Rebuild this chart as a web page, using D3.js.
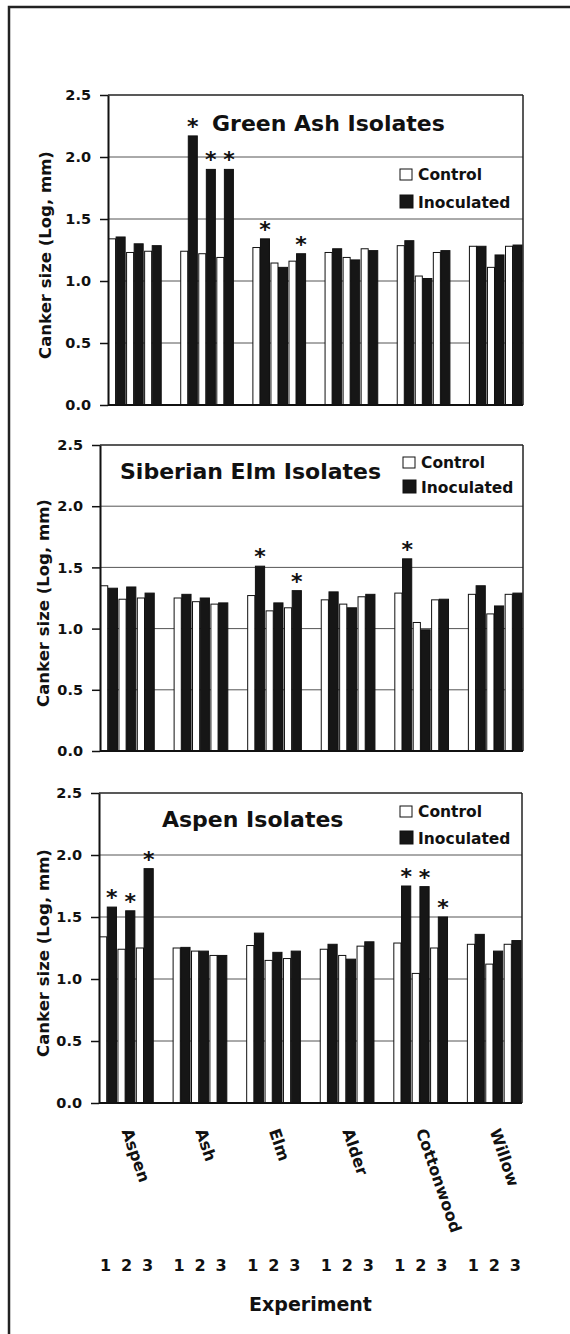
<!DOCTYPE html>
<html>
<head>
<meta charset="utf-8">
<script src="https://cdn.jsdelivr.net/npm/d3@7"></script>
<style>
  body { margin: 0; background: #fff; }
  svg { display: block; }
  text { font-family: "DejaVu Sans", sans-serif; font-weight: bold; fill: #111; }
  .grid line { stroke: #555; stroke-width: 1; }
  .bar-control { fill: #fff; stroke: #111; stroke-width: 1; }
  .bar-inoc { fill: #161616; stroke: #111; stroke-width: 1; }
</style>
</head>
<body>
<svg class="figure" width="570" height="1334"></svg>
<script>
// host trees (x groups) and experiment numbers
const hosts = ["Aspen", "Ash", "Elm", "Alder", "Cottonwood", "Willow"]
const experiments = ["1", "2", "3"]
const yTicks = [0, 0.5, 1.0, 1.5, 2.0, 2.5]
const seriesNames = ["Control", "Inoculated"]

// canker size (log, mm), order: host x experiment
const greenAshControl = [1.34, 1.23, 1.24, 1.24, 1.22, 1.19, 1.27, 1.145, 1.16, 1.23, 1.19, 1.26, 1.285, 1.04, 1.23, 1.28, 1.11, 1.28]
const greenAshInoculated = [1.355, 1.30, 1.285, 2.17, 1.90, 1.90, 1.34, 1.11, 1.22, 1.26, 1.17, 1.245, 1.325, 1.02, 1.245, 1.28, 1.21, 1.29]
const greenAshSignificant = [3, 4, 5, 6, 8]

const elmControl = [1.35, 1.24, 1.25, 1.25, 1.22, 1.20, 1.27, 1.145, 1.17, 1.235, 1.20, 1.26, 1.29, 1.05, 1.235, 1.28, 1.12, 1.28]
const elmInoculated = [1.33, 1.34, 1.29, 1.28, 1.25, 1.21, 1.51, 1.21, 1.31, 1.30, 1.17, 1.28, 1.57, 0.99, 1.24, 1.35, 1.185, 1.29]
const elmSignificant = [6, 8, 12]

const aspenControl = [1.34, 1.24, 1.25, 1.25, 1.225, 1.19, 1.27, 1.15, 1.165, 1.24, 1.19, 1.265, 1.29, 1.045, 1.25, 1.28, 1.12, 1.28]
const aspenInoculated = [1.58, 1.55, 1.89, 1.255, 1.225, 1.19, 1.37, 1.215, 1.225, 1.28, 1.16, 1.30, 1.75, 1.745, 1.50, 1.36, 1.225, 1.31]
const aspenSignificant = [0, 1, 2, 12, 13, 14]

const panels = [
  { title: "Green Ash Isolates", control: greenAshControl, inoc: greenAshInoculated, sig: greenAshSignificant,
    left: 108, right: 523, top: 95, bottom: 405, ylabX: 45, titleX: 212, titleY: 131, legX: 400, legY: [180, 208] },
  { title: "Siberian Elm Isolates", control: elmControl, inoc: elmInoculated, sig: elmSignificant,
    left: 100, right: 523, top: 445, bottom: 751, ylabX: 43, titleX: 120, titleY: 479, legX: 403, legY: [468, 493] },
  { title: "Aspen Isolates", control: aspenControl, inoc: aspenInoculated, sig: aspenSignificant,
    left: 99, right: 522, top: 793, bottom: 1103, ylabX: 43, titleX: 162, titleY: 827, legX: 400, legY: [817, 844] },
]

const svg = d3.select("svg.figure")

// outer frame (runs off the right and bottom edge in the scan)
svg.append("rect")
  .attr("x", 9).attr("y", 7)
  .attr("width", 620).attr("height", 1400)
  .attr("fill", "none").attr("stroke", "#222").attr("stroke-width", 2.5)

// 6 groups of 3 with an empty slot between groups -> 23 slots
const slotIndex = (i) => Math.floor(i / 3) * 4 + (i % 3)

function drawPanel(p) {
  const x = d3.scaleBand().domain(d3.range(23)).range([p.left, p.right]).paddingInner(0)
  const bw = x.bandwidth()
  const y = d3.scaleLinear().domain([0, 2.5]).range([p.bottom, p.top])
  const g = svg.append("g")

  // gridlines behind the bars
  g.append("g").attr("class", "grid")
    .selectAll("line")
    .data(yTicks.filter((t) => t > 0 && t < 2.5))
    .join("line")
    .attr("x1", p.left).attr("x2", p.right)
    .attr("y1", (d) => y(d)).attr("y2", (d) => y(d))

  const rows = p.control.map((c, i) => ({ i, c, v: p.inoc[i], slot: slotIndex(i) }))

  g.selectAll("rect.bar-control")
    .data(rows)
    .join("rect")
    .attr("class", "bar-control")
    .attr("x", (d) => x(d.slot) + bw * 0.03)
    .attr("width", bw * 0.39)
    .attr("y", (d) => y(d.c))
    .attr("height", (d) => y(0) - y(d.c))

  g.selectAll("rect.bar-inoc")
    .data(rows)
    .join("rect")
    .attr("class", "bar-inoc")
    .attr("x", (d) => x(d.slot) + bw * 0.45)
    .attr("width", bw * 0.5)
    .attr("y", (d) => y(d.v))
    .attr("height", (d) => y(0) - y(d.v))

  // significance asterisks
  g.selectAll("text.star")
    .data(rows.filter((d) => p.sig.includes(d.i)))
    .join("text")
    .attr("class", "star")
    .attr("text-anchor", "middle")
    .attr("font-size", 22)
    .attr("x", (d) => x(d.slot) + bw * 0.7)
    .attr("y", (d) => y(d.v) - 2)
    .text("*")

  // frame: top and right
  g.append("line").attr("x1", p.left).attr("x2", p.right).attr("y1", p.top).attr("y2", p.top)
    .attr("stroke", "#222").attr("stroke-width", 1.5)
  g.append("line").attr("x1", p.right).attr("x2", p.right).attr("y1", p.top).attr("y2", p.bottom)
    .attr("stroke", "#222").attr("stroke-width", 1.5)
  g.append("line").attr("x1", p.left).attr("x2", p.right).attr("y1", p.bottom).attr("y2", p.bottom)
    .attr("stroke", "#111").attr("stroke-width", 2)

  const axis = g.append("g")
    .attr("transform", `translate(${p.left},0)`)
    .call(d3.axisLeft(y).tickValues(yTicks).tickFormat(d3.format(".1f")).tickSize(8).tickSizeOuter(0).tickPadding(9))
  axis.select(".domain").attr("stroke", "#111").attr("stroke-width", 2)
  axis.selectAll(".tick line").attr("stroke", "#111").attr("stroke-width", 1.5)
  axis.selectAll(".tick text")
    .attr("font-family", "DejaVu Sans").attr("font-weight", "bold")
    .attr("font-size", 14.5).attr("fill", "#111")

  g.append("text")
    .attr("transform", `translate(${p.ylabX},${(p.top + p.bottom) / 2 + 5}) rotate(-90)`)
    .attr("text-anchor", "middle")
    .attr("dy", "0.35em")
    .attr("font-size", 16.5)
    .text("Canker size (Log, mm)")

  g.append("text")
    .attr("x", p.titleX).attr("y", p.titleY)
    .attr("font-size", 22)
    .text(p.title)

  // legend
  const leg = g.selectAll("g.legend")
    .data(seriesNames)
    .join("g")
    .attr("class", "legend")
    .attr("transform", (d, i) => `translate(${p.legX},${p.legY[i]})`)
  leg.append("rect")
    .attr("x", 0).attr("y", (d, i) => i === 0 ? -11 : -13)
    .attr("width", (d, i) => i === 0 ? 12 : 13)
    .attr("height", (d, i) => i === 0 ? 11 : 13)
    .attr("fill", (d, i) => i === 0 ? "#fff" : "#161616")
    .attr("stroke", "#111").attr("stroke-width", 1)
  leg.append("text")
    .attr("x", 18).attr("y", 0)
    .attr("font-size", 15.5)
    .text((d) => d)

  return x
}

let xLast
panels.forEach((p) => { xLast = drawPanel(p) })

// x labels under the bottom panel
const last = panels[panels.length - 1]
const bw = xLast.bandwidth()
const groupCenter = (gi) => xLast(gi * 4 + 1) + bw / 2

svg.selectAll("text.host")
  .data(hosts)
  .join("text")
  .attr("class", "host")
  .attr("font-size", 16)
  .attr("transform", (d, i) => `translate(${groupCenter(i) - 5},1131) rotate(71)`)
  .text((d) => d)

const nums = []
hosts.forEach((h, gi) => experiments.forEach((e, ei) => nums.push({ gi, ei, e })))
svg.selectAll("text.exp")
  .data(nums)
  .join("text")
  .attr("class", "exp")
  .attr("text-anchor", "middle")
  .attr("font-size", 16)
  .attr("x", (d) => groupCenter(d.gi) + (d.ei - 1) * 21)
  .attr("y", 1271)
  .text((d) => d.e)

svg.append("text")
  .attr("x", (last.left + last.right) / 2)
  .attr("y", 1311)
  .attr("text-anchor", "middle")
  .attr("font-size", 19)
  .text("Experiment")
</script>
</body>
</html>
